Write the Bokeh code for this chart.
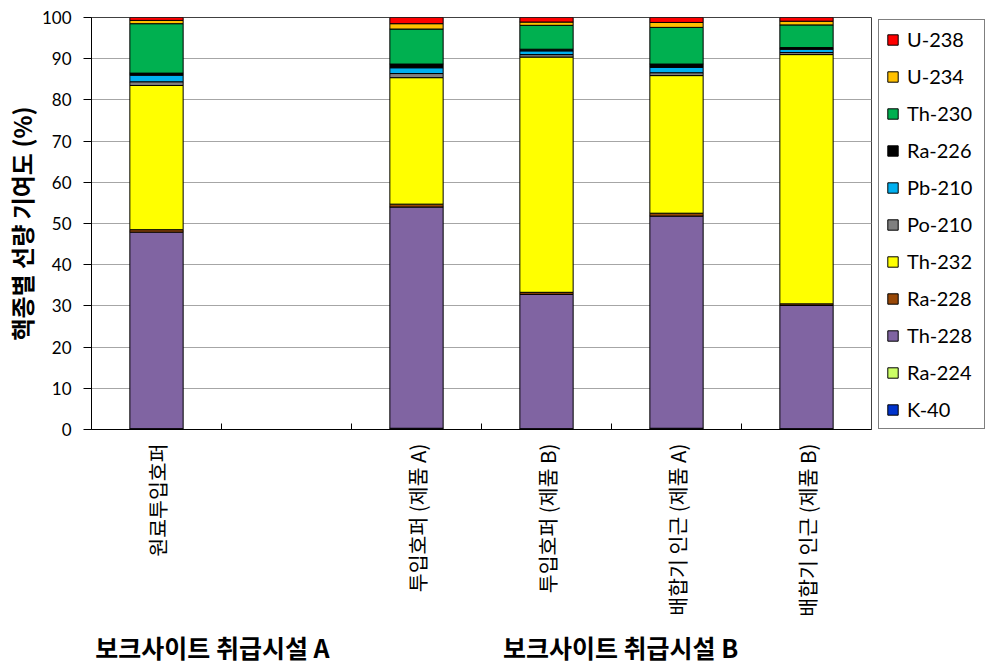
import math
from bokeh.plotting import figure
from bokeh.layouts import row
from bokeh.models import ColumnDataSource, Range1d, FixedTicker, Legend, LegendItem, LinearAxis
from bokeh.embed import file_html
from bokeh.resources import INLINE

nan = float("nan")

# ---- data ----
categories = ["원료투입호퍼", "", "투입호퍼 (제품 A)", "투입호퍼 (제품 B)",
              "배합기 인근 (제품 A)", "배합기 인근 (제품 B)"]
groups = ["보크사이트 취급시설 A", "보크사이트 취급시설 B"]
nuclides = ["K-40", "Ra-224", "Th-228", "Ra-228", "Th-232", "Po-210",
            "Pb-210", "Ra-226", "Th-230", "U-234", "U-238"]
k40 = [0.1, nan, 0.2, 0.1, 0.2, 0.1]
ra224 = [0.1, nan, 0.1, 0.1, 0.1, 0.1]
th228 = [47.7, nan, 53.7, 32.6, 51.5, 29.9]
ra228 = [0.6, nan, 0.7, 0.5, 0.7, 0.4]
th232 = [35.0, nan, 30.7, 57.1, 33.4, 60.5]
po210 = [0.9, nan, 1.0, 0.6, 0.7, 0.5]
pb210 = [1.6, nan, 1.4, 0.9, 1.3, 0.8]
ra226 = [0.5, nan, 0.9, 0.4, 0.8, 0.4]
th230 = [12.0, nan, 8.5, 5.8, 8.9, 5.5]
u234 = [0.8, nan, 1.3, 0.8, 1.2, 0.9]
u238 = [0.7, nan, 1.5, 1.1, 1.2, 0.9]
y_ticks = [0, 10, 20, 30, 40, 50, 60, 70, 80, 90, 100]

colors = ["#0033CC", "#CCFF66", "#8064A2", "#984807", "#FFFF00", "#808080",
          "#00B0F0", "#000000", "#00B050", "#FFC000", "#FF0000"]

# layout: horizontal anchor (in category-slot units) of each group caption
group_anchor = [0.93, 4.07]

series = [k40, ra224, th228, ra228, th232, po210, pb210, ra226, th230, u234, u238]
centers = [i + 0.5 for i in range(len(categories))]
boundaries = list(range(1, len(categories)))

data = {"x": centers}
for name, vals in zip(nuclides, series):
    data[name] = vals
source = ColumnDataSource(data)

p = figure(width=873, height=671,
           x_range=Range1d(0, len(categories)), y_range=Range1d(0, 100),
           output_backend="svg", toolbar_location=None,
           min_border_left=90, min_border_right=2,
           min_border_top=17, min_border_bottom=242)

renderers = p.vbar_stack(nuclides, x="x", width=0.41, source=source,
                         fill_color=colors, line_color="black", line_width=1)

# x axis (category names, boundary ticks)
xa = p.xaxis[0]
xa.ticker = FixedTicker(ticks=centers, minor_ticks=boundaries)
xa.major_label_overrides = {c: n for c, n in zip(centers, categories)}
xa.major_tick_line_color = None
xa.major_tick_out = 0
xa.major_tick_in = 0
xa.minor_tick_in = 6
xa.minor_tick_out = 0
xa.minor_tick_line_color = "black"
xa.major_label_orientation = math.pi / 2
xa.major_label_standoff = 14
xa.major_label_text_font = "Noto Sans CJK KR"
xa.major_label_text_font_size = "20.5px"
xa.major_label_text_color = "black"
xa.axis_line_color = "black"

# group captions as a second, line-less axis
ga = LinearAxis(ticker=FixedTicker(ticks=group_anchor),
                major_label_overrides={a: g for a, g in zip(group_anchor, groups)},
                axis_line_color=None, major_tick_line_color=None,
                minor_tick_line_color=None, major_tick_out=0, major_tick_in=0,
                major_label_standoff=9,
                major_label_text_font="Noto Sans CJK KR",
                major_label_text_font_style="bold",
                major_label_text_font_size="25px",
                major_label_text_color="black")
p.add_layout(ga, "below")

# y axis
ya = p.yaxis[0]
ya.ticker = FixedTicker(ticks=y_ticks)
ya.major_tick_out = 8
ya.major_tick_in = 0
ya.minor_tick_line_color = None
ya.major_label_standoff = 12
ya.major_label_text_font = "Lato"
ya.major_label_text_font_size = "17px"
ya.major_label_text_color = "black"
ya.axis_line_color = "black"
ya.axis_label = "핵종별 선량 기여도 (%)"
ya.axis_label_text_font = "Noto Sans CJK KR"
ya.axis_label_text_font_style = "bold"
ya.axis_label_text_font_size = "24px"
ya.axis_label_text_color = "black"
ya.axis_label_standoff = 0

p.xgrid.visible = False
p.ygrid.ticker = FixedTicker(ticks=y_ticks)
p.ygrid.grid_line_color = "#A6A6A6"
p.ygrid.grid_line_width = 1
p.outline_line_color = "#404040"
p.outline_line_width = 1

# legend panel: a second figure whose (off-view) stack supplies the swatches
lp = figure(width=120, height=671,
            x_range=Range1d(-20, -19), y_range=Range1d(0, 100),
            output_backend="svg", toolbar_location=None,
            x_axis_location=None, y_axis_location=None,
            min_border_left=0, min_border_right=0,
            min_border_top=17, min_border_bottom=242)
lp.grid.visible = False
lp.outline_line_color = None
swatches = lp.vbar_stack(nuclides, x="x", width=0.41, source=source,
                         fill_color=colors, line_color="black", line_width=1)
items = [LegendItem(label=n, renderers=[r]) for n, r in zip(nuclides, swatches)][::-1]
legend = Legend(items=items, location=(5, 0), margin=0, padding=7,
                glyph_width=13, glyph_height=13, label_standoff=8,
                label_height=20, label_width=70, spacing=13,
                label_text_font="Lato", label_text_font_size="20px",
                label_text_color="black",
                border_line_color="black", border_line_width=1)
lp.add_layout(legend)

layout = row(p, lp)
open("out.html", "w").write(file_html(layout, INLINE))
